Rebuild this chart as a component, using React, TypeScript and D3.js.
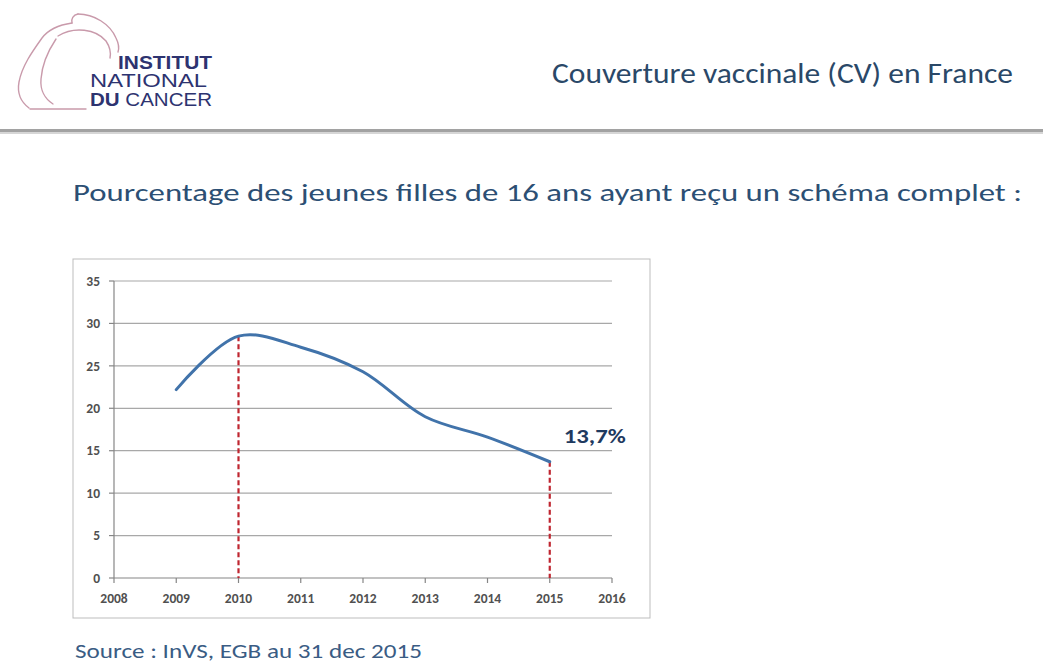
import * as d3 from "d3";

// HPV vaccine coverage (complete schedule), girls aged 16, France
const years = [2009, 2010, 2011, 2012, 2013, 2014, 2015];
const coverage = [22.2, 28.5, 27.2, 24.3, 19.0, 16.6, 13.7];
const xTicks = [2008, 2009, 2010, 2011, 2012, 2013, 2014, 2015, 2016];
const yTicks = [0, 5, 10, 15, 20, 25, 30, 35];
const markedYears = [2010, 2015];
const lastLabel = "13,7%";

const headerTitle = "Couverture vaccinale (CV) en France";
const subtitle = "Pourcentage des jeunes filles de 16 ans ayant reçu un schéma complet :";
const source = "Source : InVS, EGB au 31 dec 2015";

const FONT = "Carlito, Lato, 'Open Sans', sans-serif";
const LOGO_FONT = "'Liberation Sans Narrow', 'Arial Narrow', 'Liberation Sans', sans-serif";

export default function App() {
  const W = 1043;
  const H = 668;

  // plot area inside the chart box
  const x = d3.scaleLinear().domain([2008, 2016]).range([114, 612]);
  const y = d3.scaleLinear().domain([0, 35]).range([578, 281]);

  const pts: [number, number][] = years.map((yr, i) => [yr, coverage[i]]);
  const line = d3
    .line<[number, number]>()
    .x((d) => x(d[0]))
    .y((d) => y(d[1]))
    .curve(d3.curveCatmullRom.alpha(0.5));

  const lastIdx = years.length - 1;

  return (
    <svg
      width={W}
      height={H}
      style={{ position: "absolute", left: 0, top: 0, background: "#fff" }}
    >
      {/* logo */}
      <g fill="none" stroke="#c99aab" strokeWidth={1.4} strokeLinecap="round">
        <path d="M78,14 C94,14 110,24 116,38 C119,44 119,49 118,52" />
        <path d="M78,14 C73,15 71,19 72,23" />
        <path d="M72,23 C58,25 48,30 42,38 C32,52 22,66 19,82 C17,93 21,102 29,108" />
        <path d="M58,36 C74,26 96,29 106,41 C110,47 111,53 110,58" />
        <path d="M56,39 C48,51 42,65 41,79 C40,90 45,99 53,104" />
        <path d="M30,109 L86,109" />
      </g>
      <g fill="#2d3370" fontFamily={LOGO_FONT}>
        <text x={118} y={69} fontSize={18} fontWeight="bold" textLength={94} lengthAdjust="spacingAndGlyphs">
          INSTITUT
        </text>
        <text x={90} y={87} fontSize={18} textLength={117} lengthAdjust="spacingAndGlyphs">
          NATIONAL
        </text>
        <text x={90} y={106} fontSize={18} textLength={122} lengthAdjust="spacingAndGlyphs">
          <tspan fontWeight="bold">DU</tspan> CANCER
        </text>
      </g>

      {/* header */}
      <text x={552} y={83} fontFamily={FONT} fontSize={29} fill="#2a4868" textLength={461} lengthAdjust="spacingAndGlyphs">
        {headerTitle}
      </text>
      <rect x={0} y={129} width={W} height={3} fill="#a2a2a2" />
      <rect x={0} y={132} width={W} height={2} fill="#d6d6d6" />

      {/* subtitle */}
      <text x={73} y={201} fontFamily={FONT} fontSize={24} fill="#2c4f74" textLength={949} lengthAdjust="spacingAndGlyphs">
        {subtitle}
      </text>

      {/* chart box */}
      <rect x={73} y={259} width={577} height={359} fill="#fff" stroke="#bdbdbd" strokeWidth={1} />

      {/* gridlines */}
      <g stroke="#a8a8a8" strokeWidth={1.2}>
        {yTicks
          .filter((t) => t > 0)
          .map((t) => (
            <line key={t} x1={x(2008)} x2={x(2016)} y1={y(t)} y2={y(t)} />
          ))}
      </g>

      {/* axes */}
      <g stroke="#868686" strokeWidth={1.2}>
        <line x1={x(2008)} x2={x(2008)} y1={y(35)} y2={y(0)} />
        <line x1={x(2008)} x2={x(2016)} y1={y(0)} y2={y(0)} />
        {yTicks.map((t) => (
          <line key={t} x1={x(2008) - 5} x2={x(2008)} y1={y(t)} y2={y(t)} />
        ))}
        {xTicks.map((t) => (
          <line key={t} x1={x(t)} x2={x(t)} y1={y(0)} y2={y(0) + 5} />
        ))}
      </g>
      <g fontFamily={FONT} fontSize={13.5} fill="#505050" fontWeight={600}>
        {yTicks.map((t) => (
          <text key={t} x={100} y={y(t)} dy="0.35em" textAnchor="end">
            {t}
          </text>
        ))}
        {xTicks.map((t) => (
          <text key={t} x={x(t)} y={598} dy="0.35em" textAnchor="middle">
            {t}
          </text>
        ))}
      </g>

      {/* red dashed markers */}
      <g stroke="#bf2630" strokeWidth={2.2} strokeDasharray="5 3">
        {markedYears.map((yr) => (
          <line key={yr} x1={x(yr)} x2={x(yr)} y1={y(coverage[years.indexOf(yr)])} y2={y(0)} />
        ))}
      </g>

      {/* series */}
      <path d={line(pts) || ""} fill="none" stroke="#4173aa" strokeWidth={3} strokeLinecap="round" />

      <text
        x={x(years[lastIdx]) + 14}
        y={y(coverage[lastIdx]) - 19}
        fontFamily={FONT}
        fontSize={20}
        fontWeight="bold"
        fill="#1f3a5f"
        textLength={62}
        lengthAdjust="spacingAndGlyphs"
      >
        {lastLabel}
      </text>

      {/* source */}
      <text x={75} y={658} fontFamily={FONT} fontSize={21} fill="#3a5c84" textLength={347} lengthAdjust="spacingAndGlyphs">
        {source}
      </text>
    </svg>
  );
}
